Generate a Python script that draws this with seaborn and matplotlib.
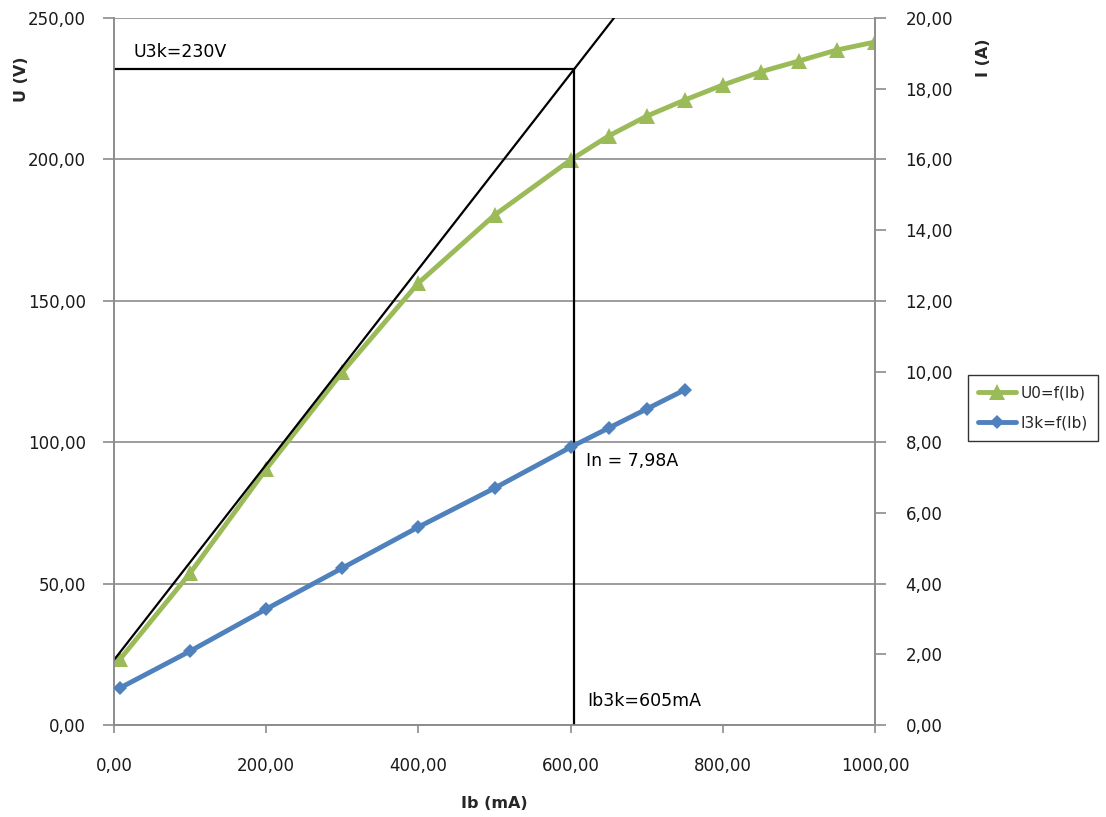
import matplotlib
matplotlib.use("Agg")
import matplotlib.pyplot as plt
from matplotlib.ticker import FuncFormatter, MultipleLocator
from matplotlib.lines import Line2D
import seaborn as sns
import pandas as pd

# Measured no-load voltage U0 versus excitation current Ib
ib_u0 = [8, 100, 200, 300, 400, 500, 600, 650, 700, 750, 800, 850, 900, 950, 1000]
u0 = [23.3, 53.7, 90.5, 124.8, 156.3, 180.3, 199.8, 208.3, 215.3, 221.0, 226.3, 231.0, 234.8, 238.7, 241.5]

# Measured short-circuit current I3k versus excitation current Ib
ib_i3k = [8, 100, 200, 300, 400, 500, 600, 650, 700, 750]
i3k = [1.05, 2.09, 3.28, 4.44, 5.60, 6.70, 7.86, 8.40, 8.94, 9.48]

# Air-gap line and rated operating point
gap_x = [0, 657]
gap_u = [23.0, 250.0]
u3k_level = 232.0
ib3k = 605.0

label_u0 = "U0=f(Ib)"
label_i3k = "I3k=f(Ib)"
txt_u3k = "U3k=230V"
txt_ib3k = "Ib3k=605mA"
txt_in = "In = 7,98A"

green = "#9BBB59"
blue = "#4F81BD"
grid_grey = "#8C8C8C"

sns.set_theme(style="white")
plt.rcParams["font.family"] = ["DejaVu Sans"]

df_u = pd.DataFrame({"Ib": ib_u0, "U": u0})
df_i = pd.DataFrame({"Ib": ib_i3k, "I": i3k})

fig = plt.figure(figsize=(11.06, 8.17), dpi=100)
ax = fig.add_axes([114 / 1106, 1 - 725 / 817, (875 - 114) / 1106, (725 - 18) / 817])
ax2 = ax.twinx()

sns.lineplot(data=df_u, x="Ib", y="U", ax=ax, color=green, linewidth=3.5,
             marker="^", markersize=11, markeredgewidth=0, zorder=4)
sns.lineplot(data=df_i, x="Ib", y="I", ax=ax2, color=blue, linewidth=3.5,
             marker="D", markersize=7.5, markeredgewidth=0, zorder=4)

# Construction lines
ax.plot(gap_x, gap_u, color="black", linewidth=1.6, zorder=5)
ax.plot([0, ib3k], [u3k_level, u3k_level], color="black", linewidth=1.6, zorder=5)
ax.plot([ib3k, ib3k], [0, u3k_level], color="black", linewidth=1.6, zorder=5)

ax.text(25, 238, txt_u3k, fontsize=12.5, va="center", ha="left", color="black")
ax.text(622, 8.5, txt_ib3k, fontsize=12.5, va="center", ha="left", color="black")
ax.text(620, 93.4, txt_in, fontsize=12.5, va="center", ha="left", color="black")

fmt = FuncFormatter(lambda v, p: f"{v:.2f}".replace(".", ","))

ax.set_xlim(0, 1000)
ax.set_ylim(0, 250)
ax2.set_ylim(0, 20)
ax.xaxis.set_major_locator(MultipleLocator(200))
ax.yaxis.set_major_locator(MultipleLocator(50))
ax2.yaxis.set_major_locator(MultipleLocator(2))
ax.xaxis.set_major_formatter(fmt)
ax.yaxis.set_major_formatter(fmt)
ax2.yaxis.set_major_formatter(fmt)

ax.yaxis.grid(True, color=grid_grey, linewidth=1.2)
ax.xaxis.grid(False)
ax2.grid(False)
ax.set_axisbelow(True)

for a in (ax, ax2):
    for s in a.spines.values():
        s.set_color(grid_grey)
        s.set_linewidth(1.2)
    a.spines["top"].set_visible(False)

ax.tick_params(axis="y", which="major", direction="out", length=8, width=1.2,
               color=grid_grey, labelsize=12, labelcolor="#1a1a1a", pad=12, left=True)
ax.tick_params(axis="x", which="major", direction="out", length=6, width=1.2,
               color=grid_grey, labelsize=12, labelcolor="#1a1a1a", pad=17, bottom=True)
ax2.tick_params(axis="y", which="major", direction="out", length=8, width=1.2,
                color=grid_grey, labelsize=12, labelcolor="#1a1a1a", pad=14, right=True)

ax.set_xlabel("")
ax.set_ylabel("")
ax2.set_ylabel("")

fig.text(22 / 1106, 1 - 79 / 817, "U (V)", rotation=90, fontsize=11.5, fontweight="bold",
         ha="center", va="center")
fig.text(983 / 1106, 1 - 58 / 817, "I (A)", rotation=90, fontsize=11.5, fontweight="bold",
         ha="center", va="center")
fig.text(494 / 1106, 1 - 803 / 817, "Ib (mA)", fontsize=11.5, fontweight="bold",
         ha="center", va="center")

handles = [
    Line2D([], [], color=green, linewidth=3.5, marker="^", markersize=11, markeredgewidth=0),
    Line2D([], [], color=blue, linewidth=3.5, marker="D", markersize=7.5, markeredgewidth=0),
]
leg = fig.legend(handles, [label_u0, label_i3k], loc="center left",
                 bbox_to_anchor=(968 / 1106, 1 - 408 / 817), fontsize=11,
                 frameon=True, fancybox=False, edgecolor="#333333", framealpha=1,
                 handlelength=2.5, handletextpad=0.3, borderpad=0.65, labelspacing=1.0,
                 borderaxespad=0)
leg.get_frame().set_linewidth(1.0)
for a in (ax, ax2):
    lg = a.get_legend()
    if lg is not None:
        lg.remove()

fig.savefig("out.png", dpi=100, facecolor="white")
